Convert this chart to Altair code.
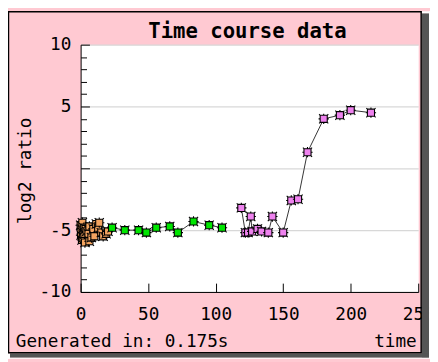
import altair as alt
import pandas as pd

# ---------------- data ----------------
orange_t = [0, 0.3, 0.6, 1.0, 1.3, 1.6, 2.0, 2.4, 2.8, 3.2, 3.6, 4.4, 5.8, 6.5, 6.5,
            8.0, 9.4, 10.2, 11.6, 13.0, 13.8, 15.3, 16.7, 18.9, 20.3]
orange_v = [-4.6, -5.4, -4.9, -5.8, -4.4, -5.2, -5.6, -4.8, -5.3, -6.0, -4.9, -5.1, -5.3, -4.7, -5.9,
            -5.6, -4.9, -5.5, -4.5, -4.8, -4.4, -5.2, -5.5, -5.3, -5.1]
green_t = [23.3, 32.7, 42.9, 48.7, 56.0, 66.0, 72.0, 83.6, 95.2, 104.7]
green_v = [-4.8, -5.0, -5.0, -5.2, -4.8, -4.7, -5.2, -4.3, -4.6, -4.8]
violet_t = [119, 122, 124, 126, 127, 131, 134, 139, 142, 150, 156, 161, 168, 180, 192, 200, 215]
violet_v = [-3.2, -5.2, -5.2, -3.9, -5.1, -4.9, -5.1, -5.2, -3.9, -5.2, -2.6, -2.5, 1.3, 4.0, 4.3, 4.7, 4.5]

series_names = ["early", "middle", "late"]
series_colors = ["#F4A460", "#00E600", "#EE82EE"]

x_ticks = [0, 50, 100, 150, 200, 250]
y_label_ticks = [-10, -5, 0, 5, 10]
y_minor_ticks = list(range(-10, 11))

title_text = "Time course data"
footer_text = "Generated in: 0.175s"

# ---------------- build table ----------------
rows = []
for name, ts, vs in zip(series_names, [orange_t, green_t, violet_t], [orange_v, green_v, violet_v]):
    for t, v in zip(ts, vs):
        rows.append({"series": name, "t": t, "v": v})
df = pd.DataFrame(rows)
one = pd.DataFrame({"k": [0]})

FONT = "DejaVu Sans Mono"
W, H = 344, 252

xs = alt.Scale(domain=[0, 250], nice=False, zero=False)
ys = alt.Scale(domain=[-10, 10], nice=False, zero=False)

x_axis = alt.Axis(orient="bottom", values=x_ticks, ticks=False, domain=True, domainColor="black",
                  domainWidth=1, grid=False, labelFont=FONT, labelFontSize=18, labelColor="black",
                  labelPadding=14, labelFlush=False, labelOverlap=False,
                  title="time", titleFont=FONT, titleFontSize=18, titleFontWeight="normal",
                  titleColor="black", titleX=342, titleY=56, titleAlign="right",
                  titleBaseline="alphabetic")
y_axis = alt.Axis(orient="left", values=y_label_ticks, ticks=False, domain=True, domainColor="black",
                  domainWidth=1, grid=True, gridColor="#D8D8D8", gridWidth=1.3,
                  labelExpr="datum.value === 0 ? '' : '' + datum.value",
                  labelFont=FONT, labelFontSize=18, labelColor="black", labelPadding=10,
                  labelFlush=False, labelOverlap=False,
                  title="log2 ratio", titleFont=FONT, titleFontSize=18, titleFontWeight="normal",
                  titleColor="black", titleX=-51, titleY=128, titleAngle=270, titleAlign="center",
                  titleBaseline="alphabetic")

xt_axis = alt.Axis(orient="top", offset=-H, values=x_ticks, labels=False, domain=False, grid=False,
                   ticks=True, tickColor="black", tickSize=9, tickWidth=1, title=None)
yt_axis = alt.Axis(orient="right", offset=-W, values=y_minor_ticks, labels=False, domain=False,
                   grid=False, ticks=True, tickColor="black", tickWidth=1, title=None,
                   tickSize={"condition": {"test": "datum.value % 5 === 0", "value": 9}, "value": 6})

MARKER = ("M-1,-1L1,-1L1,1L-1,1Z"
          "M0,-1L0,-1.45M0,1L0,1.45M-1,0L-1.45,0M1,0L1.45,0"
          "M-1,-1L-1.3,-1.3M1,-1L1.3,-1.3M1,1L1.3,1.3M-1,1L-1.3,1.3")

line = alt.Chart(df).mark_line(color="#333333", strokeWidth=1).encode(
    x=alt.X("t:Q", scale=xs, axis=x_axis),
    y=alt.Y("v:Q", scale=ys, axis=y_axis),
    detail="series:N",
)
points = alt.Chart(df).mark_point(shape=MARKER, size=52, filled=True, stroke="black",
                                  strokeWidth=1.1, opacity=1).encode(
    x=alt.X("t:Q", scale=xs, axis=x_axis),
    y=alt.Y("v:Q", scale=ys, axis=y_axis),
    fill=alt.Fill("series:N", scale=alt.Scale(domain=series_names, range=series_colors), legend=None),
)
data_layer = alt.layer(line, points)

tick_layer = alt.Chart(df).mark_point(opacity=0).encode(
    x=alt.X("t:Q", scale=xs, axis=xt_axis),
    y=alt.Y("v:Q", scale=ys, axis=yt_axis),
)


def rect(x1, x2, y1, y2, **kw):
    return alt.Chart(one).mark_rect(**kw).encode(
        x=alt.value(x1), x2=alt.value(x2), y=alt.value(y1), y2=alt.value(y2))


border = rect(-73.5, 347, -33.5, 314, fillOpacity=0, stroke="black", strokeWidth=1.5)
shadow_r = rect(347.75, 355, -32, 319, color="#555555")
shadow_b = rect(-72, 355, 314.75, 319, color="#555555")
white_a = rect(347.75, 356, -34, -32, color="white")
white_b = rect(355, 356, -34, 320, color="white")
white_c = rect(-74, -72, 314.75, 320, color="white")
white_d = rect(-74, 356, 319, 320, color="white")

title_mark = alt.Chart(one).mark_text(text=title_text, font=FONT, fontSize=21, fontWeight="bold",
                                      align="center", baseline="alphabetic", color="black").encode(
    x=alt.value(170), y=alt.value(-7))
footer_mark = alt.Chart(one).mark_text(text=footer_text, font=FONT, fontSize=18,
                                       align="left", baseline="alphabetic", color="black").encode(
    x=alt.value(-66), y=alt.value(308))

chart = alt.layer(
    data_layer, tick_layer,
    shadow_r, shadow_b, white_a, white_b, white_c, white_d, border,
    title_mark, footer_mark,
).resolve_scale(x="independent", y="independent").properties(
    width=W, height=H,
    padding={"left": 74, "top": 34, "right": 12, "bottom": 68},
    autosize=alt.AutoSizeParams(type="none"),
    background="#FFC9D2",
).configure_view(fill="white", stroke="transparent")

chart.save("out.html", embed_options={"renderer": "svg", "actions": False})
